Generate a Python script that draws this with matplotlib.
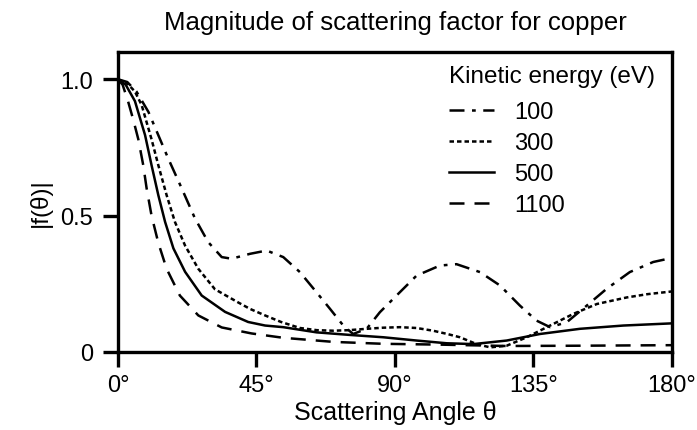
import matplotlib.pyplot as plt

plt.rcParams['font.family'] = ['Liberation Sans', 'DejaVu Sans']

# angle (deg) and |f(theta)|, one pair of lists per energy
theta_100 = [0, 3, 6, 9.9, 13.1, 16.3, 20.7, 25, 29.3, 33.7, 36.9, 42.9, 48.3, 53.7, 59.1, 64.5,
             68.9, 73.2, 76.4, 80.8, 85.1, 90.5, 97, 104.6, 110, 117.6, 124.1, 130.6, 136,
             140.4, 145.8, 152.3, 158.8, 166.3, 173.9, 180]
f_100 = [1.0, 0.99, 0.955, 0.88, 0.795, 0.71, 0.60, 0.49, 0.403, 0.348, 0.342, 0.36, 0.372,
         0.348, 0.293, 0.219, 0.158, 0.097, 0.066, 0.085, 0.146, 0.207, 0.28, 0.317, 0.322,
         0.293, 0.244, 0.17, 0.115, 0.091, 0.109, 0.17, 0.232, 0.293, 0.33, 0.345]

theta_300 = [0, 3, 5.5, 7.7, 10.9, 13.1, 15.8, 18.5, 21.8, 26.1, 31.5, 39, 42.9, 47.8, 53,
             59.1, 64.6, 70, 75, 80.8, 86, 91.6, 97, 102.4, 107, 111.1, 116.5, 120.9, 126.3,
             132.8, 140.4, 148, 155.6, 165.3, 172, 180]
f_300 = [1.0, 0.985, 0.955, 0.905, 0.78, 0.685, 0.575, 0.477, 0.39, 0.305, 0.23, 0.182, 0.158,
         0.134, 0.11, 0.088, 0.08, 0.078, 0.08, 0.085, 0.089, 0.091, 0.088, 0.078, 0.066,
         0.054, 0.029, 0.017, 0.023, 0.054, 0.097, 0.14, 0.176, 0.2, 0.212, 0.222]

theta_500 = [0, 2.5, 5.5, 8.8, 10.9, 13.1, 15.3, 18, 21.8, 27.2, 34.8, 42.3, 47.8, 53.7, 64.5,
             75.4, 86.2, 97, 106.8, 115.5, 126.3, 137.1, 150.1, 164.2, 180]
f_500 = [1.0, 0.98, 0.92, 0.795, 0.685, 0.575, 0.477, 0.38, 0.294, 0.207, 0.147, 0.11, 0.097,
         0.091, 0.072, 0.0625, 0.054, 0.042, 0.032, 0.029, 0.042, 0.066, 0.085, 0.097, 0.105]

theta_1100 = [0, 1.5, 3.25, 5, 6.6, 8.2, 9.3, 10.9, 13.1, 15.8, 20.1, 26.1, 33.7, 43.4, 53.7,
              70, 86.2, 104.6, 126, 150, 180]
f_1100 = [1.0, 0.98, 0.92, 0.85, 0.78, 0.685, 0.6, 0.5, 0.4, 0.305, 0.207, 0.134, 0.09, 0.068,
          0.052, 0.037, 0.03, 0.027, 0.022, 0.023, 0.025]

x_ticks = [0, 45, 90, 135, 180]
x_tick_labels = ['0°', '45°', '90°', '135°', '180°']
y_ticks = [0, 0.5, 1.0]
y_tick_labels = ['0', '0.5', '1.0']

fig = plt.figure(figsize=(6.97, 4.31), dpi=100)
ax = fig.add_axes([0.1693, 0.181, 0.7948, 0.696])

lw = 1.8
ax.plot(theta_100, f_100, color='k', lw=lw, dashes=(6, 3, 1.5, 3), label='100')
ax.plot(theta_300, f_300, color='k', lw=lw, dashes=(1.8, 1.2), label='300')
ax.plot(theta_500, f_500, color='k', lw=lw, linestyle='-', label='500')
ax.plot(theta_1100, f_1100, color='k', lw=lw, dashes=(6, 4), label='1100')

ax.set_xlim(0, 180)
ax.set_ylim(0, 1.1)
ax.set_xticks(x_ticks)
ax.set_xticklabels(x_tick_labels, fontsize=17)
ax.set_yticks(y_ticks)
ax.set_yticklabels(y_tick_labels, fontsize=17)
ax.tick_params(direction='out', length=11, width=2.4)
ax.tick_params(axis='x', pad=5)
ax.tick_params(axis='y', pad=7)
for s in ax.spines.values():
    s.set_linewidth(2.4)

ax.set_xlabel('Scattering Angle θ', fontsize=18, labelpad=3)
ax.set_ylabel('|f(θ)|', fontsize=17.5, labelpad=6)
fig.text(0.567, 0.946, 'Magnitude of scattering factor for copper', fontsize=18.5,
         ha='center', va='center')

leg = ax.legend(title='Kinetic energy (eV)', loc='upper left', bbox_to_anchor=(0.593, 0.965),
                frameon=False, fontsize=17, title_fontsize=17.5, handlelength=1.9,
                labelspacing=0.38, handletextpad=0.85, borderpad=0.1, borderaxespad=0)
leg._legend_box.align = 'left'
leg._legend_box.sep = 0.38 * 17 + 4

plt.savefig('out.png', dpi=100)
